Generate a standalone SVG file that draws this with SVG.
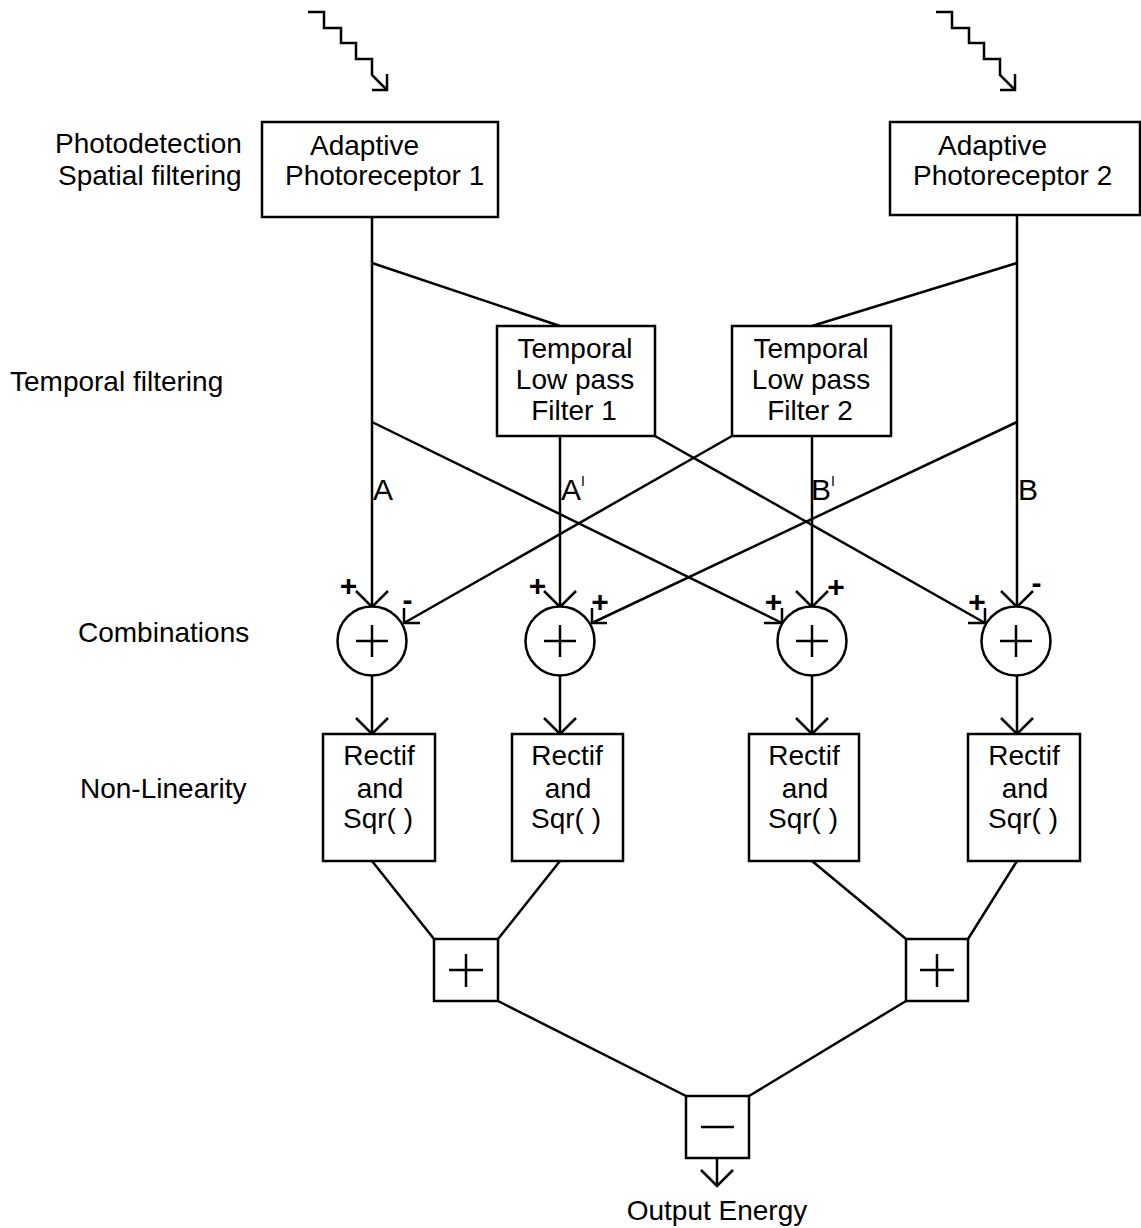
<svg xmlns="http://www.w3.org/2000/svg" width="1141" height="1228" viewBox="0 0 1141 1228">
<style>
  .ln{stroke:#000;stroke-width:2.5;fill:none}
  .bx{stroke:#000;stroke-width:2.5;fill:#fff}
  .t{font-family:"Liberation Sans",Arial,sans-serif;font-size:28px;fill:#000}
  .c{text-anchor:middle}
  .s{font-family:"Liberation Sans",Arial,sans-serif;font-size:30px;font-weight:bold;fill:#000;text-anchor:middle}
  .lab{font-family:"Liberation Sans",Arial,sans-serif;font-size:30px;fill:#000}
</style>
<rect width="1141" height="1228" fill="#fff"/>

<g id="connectors">
  <polyline class="ln" points="308,12 324,12 324,28 341,28 341,43 356,43 356,59 372,59 372,75 387,90"/>
  <polyline class="ln" points="387,74 387,90 372,90"/>
  <polyline class="ln" points="936,12 952,12 952,28 969,28 969,43 984,43 984,59 1000,59 1000,75 1015,90"/>
  <polyline class="ln" points="1015,74 1015,90 1000,90"/>

  <line class="ln" x1="372" y1="217" x2="372" y2="606"/>
  <line class="ln" x1="1017" y1="215" x2="1017" y2="606"/>
  <line class="ln" x1="560" y1="436" x2="560" y2="606"/>
  <line class="ln" x1="812" y1="436" x2="812" y2="606"/>

  <line class="ln" x1="372" y1="263" x2="560" y2="326"/>
  <line class="ln" x1="1017" y1="263" x2="812" y2="326"/>

  <line class="ln" x1="372" y1="422" x2="782" y2="623"/>
  <line class="ln" x1="655" y1="436" x2="985" y2="623"/>
  <line class="ln" x1="732" y1="436" x2="404" y2="623"/>
  <line class="ln" x1="1017" y1="422" x2="592" y2="623"/>

  <polyline class="ln" points="356,591 372,607 388,591"/>
  <polyline class="ln" points="544,591 560,607 576,591"/>
  <polyline class="ln" points="796,591 812,607 828,591"/>
  <polyline class="ln" points="1001,591 1017,607 1033,591"/>

  <polyline class="ln" points="404,608 404,623 420,623"/>
  <polyline class="ln" points="592,608 592,623 607,623"/>
  <polyline class="ln" points="782,608 782,623 764,623"/>
  <polyline class="ln" points="985,608 985,623 968,623"/>

  <line class="ln" x1="372" y1="676" x2="372" y2="734"/>
  <line class="ln" x1="560" y1="676" x2="560" y2="734"/>
  <line class="ln" x1="812" y1="676" x2="812" y2="734"/>
  <line class="ln" x1="1017" y1="676" x2="1017" y2="734"/>
  <polyline class="ln" points="356,718 372,734 388,718"/>
  <polyline class="ln" points="544,718 560,734 576,718"/>
  <polyline class="ln" points="796,718 812,734 828,718"/>
  <polyline class="ln" points="1001,718 1017,734 1033,718"/>

  <line class="ln" x1="372" y1="861" x2="434" y2="939"/>
  <line class="ln" x1="560" y1="861" x2="498" y2="939"/>
  <line class="ln" x1="812" y1="861" x2="906" y2="939"/>
  <line class="ln" x1="1017" y1="861" x2="968" y2="939"/>

  <line class="ln" x1="498" y1="1001" x2="686" y2="1096"/>
  <line class="ln" x1="906" y1="1001" x2="749" y2="1096"/>

  <line class="ln" x1="717" y1="1158" x2="717" y2="1186"/>
  <polyline class="ln" points="701,1170 717,1186 733,1170"/>
</g>

<g id="photoreceptor1">
  <rect class="bx" x="262" y="122" width="236" height="95"/>
  <text class="t" x="310" y="155">Adaptive</text>
  <text class="t" x="285" y="185">Photoreceptor 1</text>
</g>
<g id="photoreceptor2">
  <rect class="bx" x="890" y="122" width="250" height="93"/>
  <text class="t" x="938" y="155">Adaptive</text>
  <text class="t" x="913" y="185">Photoreceptor 2</text>
</g>

<g id="filter1">
  <rect class="bx" x="497" y="326" width="158" height="110"/>
  <text class="t c" x="575" y="358">Temporal</text>
  <text class="t c" x="575" y="389">Low pass</text>
  <text class="t c" x="574" y="420">Filter 1</text>
</g>
<g id="filter2">
  <rect class="bx" x="732" y="326" width="159" height="110"/>
  <text class="t c" x="811" y="358">Temporal</text>
  <text class="t c" x="811" y="389">Low pass</text>
  <text class="t c" x="810" y="420">Filter 2</text>
</g>

<g id="labels">
  <text class="lab" x="373" y="500">A</text>
  <text class="lab" x="561" y="500">A<tspan font-size="14" dy="-14">I</tspan></text>
  <text class="lab" x="811" y="500">B<tspan font-size="14" dy="-14">I</tspan></text>
  <text class="lab" x="1018" y="500">B</text>
</g>

<g id="sum1">
  <circle class="bx" cx="372" cy="641" r="34.5"/>
  <path class="ln" d="M356,641H388M372,625V657"/>
  <text class="s" x="348.5" y="595.5">+</text>
  <text class="s" x="407.5" y="610">-</text>
</g>
<g id="sum2">
  <circle class="bx" cx="560" cy="641" r="34.5"/>
  <path class="ln" d="M544,641H576M560,625V657"/>
  <text class="s" x="537.5" y="595.5">+</text>
  <text class="s" x="600" y="611.5">+</text>
</g>
<g id="sum3">
  <circle class="bx" cx="812" cy="641" r="34.5"/>
  <path class="ln" d="M796,641H828M812,625V657"/>
  <text class="s" x="773.5" y="611.5">+</text>
  <text class="s" x="836" y="596.5">+</text>
</g>
<g id="sum4">
  <circle class="bx" cx="1016" cy="641" r="34.5"/>
  <path class="ln" d="M1000,641H1032M1016,625V657"/>
  <text class="s" x="977" y="611.5">+</text>
  <text class="s" x="1036.5" y="593">-</text>
</g>

<g id="rectif1">
  <rect class="bx" x="323" y="734" width="112" height="127"/>
  <text class="t c" x="379" y="765">Rectif</text>
  <text class="t c" x="380" y="798">and</text>
  <text class="t c" x="378" y="828">Sqr( )</text>
</g>
<g id="rectif2">
  <rect class="bx" x="512" y="734" width="111" height="127"/>
  <text class="t c" x="567" y="765">Rectif</text>
  <text class="t c" x="568" y="798">and</text>
  <text class="t c" x="566" y="828">Sqr( )</text>
</g>
<g id="rectif3">
  <rect class="bx" x="749" y="734" width="110" height="127"/>
  <text class="t c" x="804" y="765">Rectif</text>
  <text class="t c" x="805" y="798">and</text>
  <text class="t c" x="803" y="828">Sqr( )</text>
</g>
<g id="rectif4">
  <rect class="bx" x="968" y="734" width="112" height="127"/>
  <text class="t c" x="1024" y="765">Rectif</text>
  <text class="t c" x="1025" y="798">and</text>
  <text class="t c" x="1023" y="828">Sqr( )</text>
</g>

<g id="add1">
  <rect class="bx" x="434" y="939" width="64" height="62"/>
  <path class="ln" d="M449,970H483M466,954V987"/>
</g>
<g id="add2">
  <rect class="bx" x="906" y="939" width="62" height="62"/>
  <path class="ln" d="M920,970H954M937,954V987"/>
</g>
<g id="subtract">
  <rect class="bx" x="686" y="1096" width="63" height="62"/>
  <path class="ln" d="M701,1127H734"/>
</g>

<g id="stage-labels">
  <text class="t" x="55" y="153">Photodetection</text>
  <text class="t" x="58" y="185">Spatial filtering</text>
  <text class="t" x="10" y="391">Temporal filtering</text>
  <text class="t" x="78" y="642">Combinations</text>
  <text class="t" x="80" y="798">Non-Linearity</text>
</g>

<g id="output">
  <text class="t c" x="717" y="1220">Output Energy</text>
</g>
</svg>
